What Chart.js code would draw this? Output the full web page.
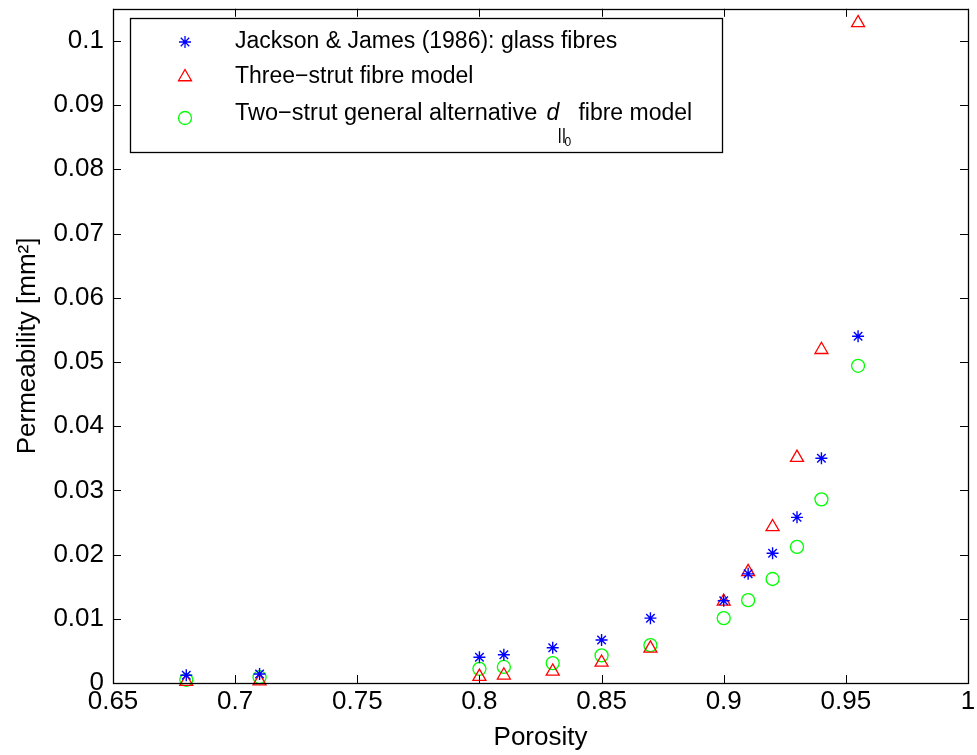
<!DOCTYPE html>
<html><head><meta charset="utf-8">
<script src="https://cdn.jsdelivr.net/npm/chart.js@4"></script>
<style>html,body{margin:0;padding:0;background:#fff}#c{display:block}</style>
</head><body><canvas id="c" width="977" height="755"></canvas>
<script>
const porosity = [0.68, 0.71, 0.80, 0.81, 0.83, 0.85, 0.87, 0.90, 0.91, 0.92, 0.93, 0.94, 0.955];
const jacksonJames = [0.0012, 0.0014, 0.0040, 0.0044, 0.0055, 0.0067, 0.0101, 0.0128, 0.0170, 0.0202, 0.0258, 0.0350, 0.0540];
const threeStrut = [0.0002, 0.0003, 0.0010, 0.0012, 0.0018, 0.0032, 0.0054, 0.0127, 0.0173, 0.0243, 0.0351, 0.0519, 0.1028];
const twoStrut = [0.0005, 0.0009, 0.0022, 0.0025, 0.0031, 0.0043, 0.0059, 0.0101, 0.0129, 0.0162, 0.0212, 0.0286, 0.0494];
const xTickValues = [0.65, 0.7, 0.75, 0.8, 0.85, 0.9, 0.95, 1];
const xTickLabels = ['0.65', '0.7', '0.75', '0.8', '0.85', '0.9', '0.95', '1'];
const yTickValues = [0, 0.01, 0.02, 0.03, 0.04, 0.05, 0.06, 0.07, 0.08, 0.09, 0.1];
const yTickLabels = ['0', '0.01', '0.02', '0.03', '0.04', '0.05', '0.06', '0.07', '0.08', '0.09', '0.1'];
const seriesNames = ['Jackson & James (1986): glass fibres', 'Three\u2212strut fibre model', 'Two\u2212strut general alternative'];

const FONT = "'Liberation Sans', Arial, Helvetica, sans-serif";

function pts(ys) { return porosity.map((x, i) => ({x: x, y: ys[i]})); }

const frame = {
  id: 'frame',
  afterDatasetsDraw(chart) {
    const {ctx, chartArea: a, scales} = chart;
    ctx.save();
    ctx.strokeStyle = '#000';
    ctx.lineWidth = 1;
    const L = 8;
    ctx.beginPath();
    xTickValues.forEach(v => {
      const px = Math.round(scales.x.getPixelForValue(v)) + 0.5;
      ctx.moveTo(px, a.bottom); ctx.lineTo(px, a.bottom - L);
      ctx.moveTo(px, a.top); ctx.lineTo(px, a.top + L);
    });
    yTickValues.forEach(v => {
      const py = Math.round(scales.y.getPixelForValue(v)) + 0.5;
      ctx.moveTo(a.left, py); ctx.lineTo(a.left + L, py);
      ctx.moveTo(a.right, py); ctx.lineTo(a.right - L, py);
    });
    ctx.stroke();
    ctx.lineWidth = 1.3;
    ctx.strokeRect(Math.round(a.left) + 0.5, Math.round(a.top) + 0.5, Math.round(a.right - a.left), Math.round(a.bottom - a.top));
    ctx.restore();
  }
};

const legendBox = {
  id: 'legendBox',
  afterDraw(chart) {
    const ctx = chart.ctx;
    ctx.save();
    const bx = 130, by = 18, bw = 592, bh = 134;
    ctx.fillStyle = '#fff';
    ctx.fillRect(bx, by, bw, bh);
    ctx.strokeStyle = '#000';
    ctx.lineWidth = 1.3;
    ctx.strokeRect(bx + 0.5, by + 0.5, bw, bh);
    const rows = [42, 77, 114];
    const mx = 185, tx = 235;
    chart.data.datasets.forEach((ds, i) => {
      ctx.strokeStyle = ds.borderColor;
      ctx.fillStyle = 'rgba(0,0,0,0)';
      Chart.helpers.drawPoint(ctx, {pointStyle: ds.pointStyle, radius: ds.pointRadius, rotation: 0, borderWidth: ds.borderWidth}, mx, rows[i] + (i === 2 ? 4 : 0));
    });
    ctx.fillStyle = '#000';
    ctx.textBaseline = 'middle';
    ctx.textAlign = 'left';
    ctx.font = '23px ' + FONT;
    ctx.fillText(seriesNames[0], tx, rows[0]);
    ctx.fillText(seriesNames[1], tx, rows[1]);
    ctx.font = '23.5px ' + FONT;
    ctx.fillText(seriesNames[2], tx, rows[2]);
    const xd = tx + ctx.measureText(seriesNames[2]).width + 9;
    ctx.font = 'italic 23px ' + FONT;
    ctx.fillText('d', xd, rows[2]);
    ctx.font = '17px ' + FONT;
    ctx.fillText('||', xd + 11, rows[2] + 21);
    ctx.font = '12px ' + FONT;
    ctx.fillText('0', xd + 18, rows[2] + 29);
    ctx.font = '23px ' + FONT;
    ctx.fillText('fibre model', xd + 32, rows[2]);
    ctx.restore();
  }
};

new Chart(document.getElementById('c'), {
  type: 'scatter',
  data: {
    datasets: [
      {label: seriesNames[0], data: pts(jacksonJames), pointStyle: 'star', pointRadius: 6, borderColor: '#0000ff', backgroundColor: '#0000ff', borderWidth: 1.4, clip: false},
      {label: seriesNames[1], data: pts(threeStrut), pointStyle: 'triangle', pointRadius: 7.5, borderColor: '#ff0000', backgroundColor: 'rgba(0,0,0,0)', borderWidth: 1.3, clip: false},
      {label: seriesNames[2], data: pts(twoStrut), pointStyle: 'circle', pointRadius: 6.5, borderColor: '#00ff00', backgroundColor: 'rgba(0,0,0,0)', borderWidth: 1.3, clip: false}
    ]
  },
  options: {
    responsive: false,
    animation: false,
    devicePixelRatio: 1,
    layout: {padding: {left: 0, right: 9, top: 8, bottom: 0}},
    plugins: {legend: {display: false}, tooltip: {enabled: false}},
    elements: {point: {hoverRadius: 6}},
    scales: {
      x: {
        type: 'linear', min: 0.65, max: 1,
        afterBuildTicks: s => { s.ticks = xTickValues.map(v => ({value: v})); },
        afterFit: s => { s.height = 72; s.paddingLeft = 0; s.paddingRight = 0; },
        ticks: {
          callback: (v, i) => xTickLabels[i],
          font: {family: FONT, size: 26}, color: '#000', padding: 3, maxRotation: 0, autoSkip: false
        },
        grid: {display: false, drawTicks: false},
        border: {display: false},
        title: {display: true, text: 'Porosity', font: {family: FONT, size: 26}, color: '#000', padding: {top: 0, bottom: 2}}
      },
      y: {
        type: 'linear', min: 0, max: 0.105,
        afterBuildTicks: s => { s.ticks = yTickValues.map(v => ({value: v})); },
        afterFit: s => { s.width = 113; s.paddingTop = 0; s.paddingBottom = 0; },
        ticks: {
          callback: (v, i) => yTickLabels[i],
          font: {family: FONT, size: 26}, color: '#000', padding: 9, autoSkip: false
        },
        grid: {display: false, drawTicks: false},
        border: {display: false},
        title: {display: true, text: 'Permeability [mm\u00b2]', font: {family: FONT, size: 26}, color: '#000', padding: {top: 12, bottom: 0}}
      }
    }
  },
  plugins: [frame, legendBox]
});
</script>
</body></html>
